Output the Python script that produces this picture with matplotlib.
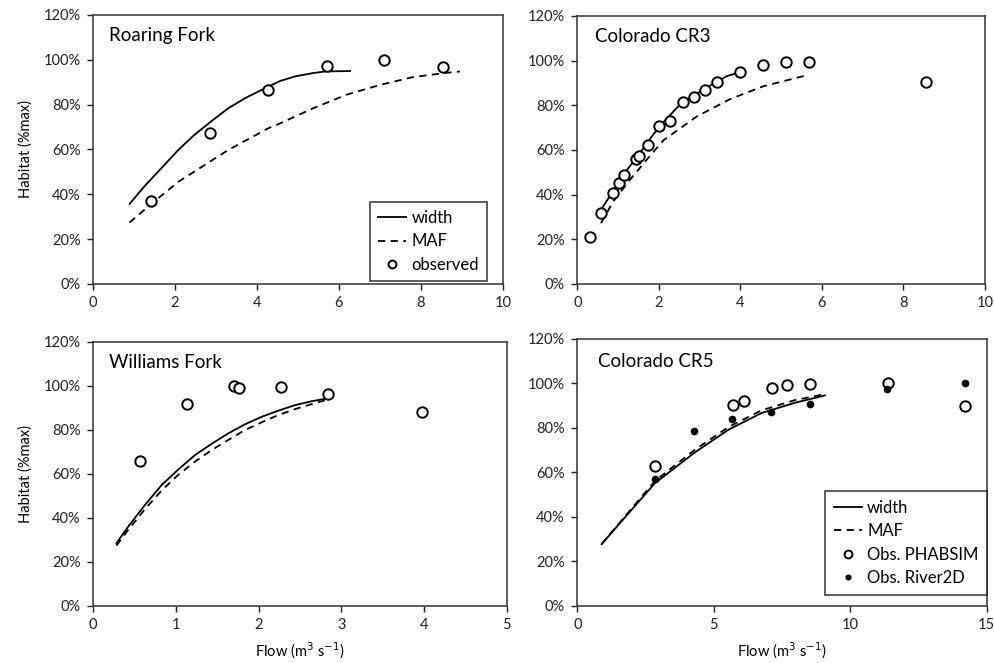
import matplotlib
matplotlib.use("Agg")
import matplotlib.pyplot as plt
from matplotlib.ticker import PercentFormatter

plt.rcParams["font.family"] = ["Lato", "DejaVu Sans"]

# Roaring Fork
rf_obs_x = [1.42, 2.86, 4.28, 5.70, 7.11, 8.54]
rf_obs_y = [37.0, 67.3, 86.6, 97.3, 100.0, 96.9]
rf_width_x = [0.89, 1.27, 1.68, 2.08, 2.49, 2.90, 3.30, 3.71, 4.28, 4.57, 4.93, 5.37, 5.66, 6.27]
rf_width_y = [35.7, 43.9, 51.9, 59.8, 66.8, 72.8, 78.4, 82.9, 88.1, 90.6, 92.6, 94.1, 94.8, 95.0]
rf_maf_x = [0.89, 1.44, 2.09, 3.30, 4.28, 4.57, 5.37, 6.18, 7.00, 7.81, 8.62, 8.95]
rf_maf_y = [27.4, 36.0, 45.7, 59.8, 69.5, 71.7, 78.4, 84.4, 88.8, 92.3, 94.2, 94.8]

# Colorado CR3
cr3_obs_x = [0.31, 0.58, 0.87, 1.03, 1.15, 1.44, 1.51, 1.73, 2.01, 2.27,
             2.59, 2.86, 3.12, 3.42, 3.99, 4.55, 5.12, 5.69, 8.54]
cr3_obs_y = [21.2, 31.7, 40.7, 45.4, 48.7, 55.9, 57.1, 62.3, 70.9, 72.8,
             81.7, 83.7, 87.0, 90.4, 94.9, 98.1, 99.4, 99.6, 90.3]
cr3_width_x = [0.58, 0.87, 1.17, 1.50, 1.78, 2.03, 2.32, 2.59, 2.86, 3.12, 3.42, 3.66, 3.99]
cr3_width_y = [33.2, 41.4, 49.9, 57.8, 64.9, 70.9, 76.5, 81.7, 84.3, 87.4, 90.5, 93.0, 94.9]
cr3_maf_x = [0.58, 0.88, 1.29, 1.70, 2.11, 2.93, 3.75, 4.56, 5.68]
cr3_maf_y = [27.2, 36.9, 46.6, 55.6, 64.3, 75.0, 82.8, 88.5, 93.7]

# Williams Fork
wf_obs_x = [0.565, 1.14, 1.70, 1.76, 2.27, 2.84, 3.97]
wf_obs_y = [66.0, 91.8, 99.9, 98.8, 99.4, 96.1, 88.1]
wf_width_x = [0.283, 0.424, 0.626, 0.828, 1.029, 1.231, 1.433, 1.635,
              1.836, 2.038, 2.240, 2.442, 2.644, 2.845, 2.886]
wf_width_y = [28.5, 36.0, 45.8, 54.9, 61.9, 68.5, 73.6, 78.4,
              82.5, 85.9, 88.7, 91.2, 93.0, 94.3, 94.4]
wf_maf_x = wf_width_x
wf_maf_y = [27.4, 34.5, 43.9, 52.4, 59.5, 65.5, 70.8, 75.4,
            79.9, 83.4, 86.7, 89.4, 91.7, 93.8, 94.1]

# Colorado CR5
cr5_phab_x = [2.85, 5.69, 6.09, 7.12, 7.67, 8.52, 11.39, 14.20]
cr5_phab_y = [62.9, 90.1, 91.9, 97.9, 99.2, 99.8, 100.0, 89.9]
cr5_r2d_x = [2.85, 4.26, 5.67, 7.11, 8.52, 11.36, 14.20]
cr5_r2d_y = [57.0, 78.7, 84.1, 87.1, 90.7, 97.6, 100.0]
cr5_width_x = [0.89, 1.87, 2.85, 4.31, 5.54, 6.75, 7.97, 9.07]
cr5_width_y = [27.7, 41.5, 55.2, 69.0, 79.2, 86.7, 91.3, 94.6]
cr5_maf_x = cr5_width_x
cr5_maf_y = [27.7, 42.0, 56.2, 70.2, 80.4, 87.9, 92.5, 95.2]

fig = plt.figure(figsize=(9.95, 6.63), dpi=100)
ax_rf = fig.add_axes([0.0935, 0.5717, 0.4120, 0.4057])
ax_cr3 = fig.add_axes([0.5802, 0.5717, 0.4098, 0.4042])
ax_wf = fig.add_axes([0.0935, 0.0860, 0.4158, 0.3986])
ax_cr5 = fig.add_axes([0.5802, 0.0864, 0.4115, 0.4023])

line_kw = dict(color="black", lw=1.3)
dash_kw = dict(color="black", lw=1.3, ls=(0, (4, 3)))
open_kw = dict(ls="none", marker="o", ms=7.5, mfc="white", mec="black", mew=1.4)
dot_kw = dict(ls="none", marker="o", ms=4.5, mfc="black", mec="black")
leg_kw = dict(loc="center", fontsize=12, frameon=True, fancybox=False,
              edgecolor="black", handlelength=1.7, handletextpad=0.3,
              labelspacing=0.45, borderpad=0.5, borderaxespad=0, markerscale=0.75)


def style(ax, title, xmax, xstep, title_xy):
    ax.set_xlim(0, xmax)
    ax.set_ylim(0, 120)
    ax.set_xticks(range(0, xmax + 1, xstep))
    ax.set_yticks(range(0, 121, 20))
    ax.yaxis.set_major_formatter(PercentFormatter(decimals=0))
    ax.tick_params(direction="out", length=4, width=1, labelsize=10.5,
                   colors="#222222", pad=5)
    for sp in ax.spines.values():
        sp.set_color("#333333")
        sp.set_linewidth(1.1)
    ax.text(title_xy[0], title_xy[1], title, transform=ax.transAxes,
            fontsize=13.5, va="center", ha="left")


ax_rf.plot(rf_width_x, rf_width_y, label="width", **line_kw)
ax_rf.plot(rf_maf_x, rf_maf_y, label="MAF", **dash_kw)
ax_rf.plot(rf_obs_x, rf_obs_y, label="observed", **open_kw)
style(ax_rf, "Roaring Fork", 10, 2, (0.039, 0.925))
ax_rf.set_ylabel("Habitat (%max)", fontsize=10.5, labelpad=8)
leg = ax_rf.legend(bbox_to_anchor=(0.818, 0.158), **leg_kw)
leg.get_frame().set_linewidth(1.1)

ax_cr3.plot(cr3_width_x, cr3_width_y, **line_kw)
ax_cr3.plot(cr3_maf_x, cr3_maf_y, **dash_kw)
ax_cr3.plot(cr3_obs_x, cr3_obs_y, **open_kw)
style(ax_cr3, "Colorado CR3", 10, 2, (0.044, 0.925))

ax_wf.plot(wf_width_x, wf_width_y, **line_kw)
ax_wf.plot(wf_maf_x, wf_maf_y, **dash_kw)
ax_wf.plot(wf_obs_x, wf_obs_y, **open_kw)
style(ax_wf, "Williams Fork", 5, 1, (0.039, 0.92))
ax_wf.set_ylabel("Habitat (%max)", fontsize=10.5, labelpad=8)
ax_wf.set_xlabel("Flow (m$^3$ s$^{-1}$)", fontsize=10.5, labelpad=6)

ax_cr5.plot(cr5_width_x, cr5_width_y, label="width", **line_kw)
ax_cr5.plot(cr5_maf_x, cr5_maf_y, label="MAF", **dash_kw)
ax_cr5.plot(cr5_phab_x, cr5_phab_y, label="Obs. PHABSIM", **open_kw)
ax_cr5.plot(cr5_r2d_x, cr5_r2d_y, label="Obs. River2D", **dot_kw)
style(ax_cr5, "Colorado CR5", 15, 5, (0.05, 0.915))
ax_cr5.set_xlabel("Flow (m$^3$ s$^{-1}$)", fontsize=10.5, labelpad=6)
leg = ax_cr5.legend(bbox_to_anchor=(0.803, 0.235), **leg_kw)
leg.get_frame().set_linewidth(1.1)

fig.savefig("out.png", dpi=100)
